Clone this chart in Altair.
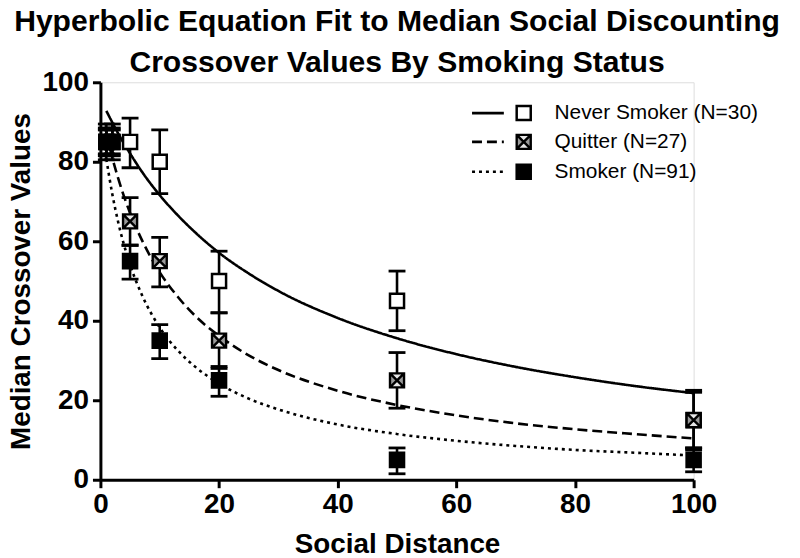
import altair as alt
import pandas as pd

# ---- data ----
distance = [1, 2, 5, 10, 20, 50, 100]

never_med = [85, 85, 85, 80, 50, 45, 15]
never_lo = [80.5, 80.5, 78.5, 72, 42, 37.5, 7.5]
never_hi = [89.5, 89.5, 91, 88, 57.5, 52.5, 22.5]

quit_med = [85, 85, 65, 55, 35, 25, 15]
quit_lo = [81.5, 81.5, 59, 48.5, 28.5, 18, 8]
quit_hi = [88.5, 88.5, 71, 61, 42, 32, 22]

smoke_med = [85, 85, 55, 35, 25, 5, 5]
smoke_lo = [82, 82, 50.5, 30.5, 21, 1.5, 2]
smoke_hi = [88, 88, 59, 39, 28, 8, 8]

# fitted hyperbolic curves
fit_x = [1, 2, 3, 5, 7, 10, 13, 16, 20, 25, 30, 40, 50, 60, 70, 80, 90, 100]
never_fit = [92.8, 89.9, 87.1, 82.1, 77.5, 71.6, 66.6, 62.2, 57.1, 51.9, 47.5, 40.7, 35.6, 31.6, 28.4, 25.8, 23.6, 21.8]
quit_fit = [87.0, 81.0, 75.8, 67.1, 60.3, 52.2, 46.1, 41.2, 36.2, 31.3, 27.6, 22.4, 18.8, 16.2, 14.2, 12.7, 11.5, 10.4]
smoke_fit = [80.7, 71.9, 64.8, 54.1, 46.5, 38.3, 32.6, 28.4, 24.2, 20.4, 17.7, 13.9, 11.5, 9.8, 8.5, 7.5, 6.8, 6.1]

series_names = ["Never Smoker", "Quitter", "Smoker"]
legend_labels = ["Never Smoker (N=30)", "Quitter (N=27)", "Smoker (N=91)"]

title_lines = ["Hyperbolic Equation Fit to Median Social Discounting",
               "Crossover Values By Smoking Status"]
x_title = "Social Distance"
y_title = "Median Crossover Values"
tick_values = [0, 20, 40, 60, 80, 100]

# ---- tables ----
pts = pd.DataFrame({
    "series": sum([[s] * len(distance) for s in series_names], []),
    "distance": distance * 3,
    "median": never_med + quit_med + smoke_med,
    "lo": never_lo + quit_lo + smoke_lo,
    "hi": never_hi + quit_hi + smoke_hi,
})
fits = pd.DataFrame({
    "series": sum([[s] * len(fit_x) for s in series_names], []),
    "distance": fit_x * 3,
    "value": never_fit + quit_fit + smoke_fit,
})

FONT = "Liberation Sans"
x_scale = alt.Scale(domain=[0, 100], nice=False, zero=False)
y_scale = alt.Scale(domain=[0, 100], nice=False)

axis_common = dict(
    values=tick_values, grid=False, domainColor="black", domainWidth=3,
    tickColor="black", tickWidth=3, tickSize=8, labelFont=FONT,
    labelFontWeight="bold", labelFontSize=28, labelColor="black",
    labelFlush=False, titleFont=FONT, titleFontWeight="bold",
    titleFontSize=28, titleColor="black",
)
x_axis = alt.Axis(title=x_title, labelPadding=3, titlePadding=12, **axis_common)
y_axis = alt.Axis(title=y_title, labelPadding=4, titlePadding=7, **axis_common)

X = alt.X("distance:Q", scale=x_scale, axis=x_axis)
Y_med = alt.Y("median:Q", scale=y_scale, axis=y_axis)

dashes = {"Never Smoker": [1, 0], "Quitter": [10, 5], "Smoker": [3, 4]}

SQ = 200
TRI = "M-1,-1L0,0L-1,1Z M1,-1L0,0L1,1Z"
XBOX = "M-1,-1L1,1M-1,1L1,-1M-1,-1L1,-1L1,1L-1,1Z"


def markers(base, name, enc):
    if name == "Never Smoker":
        return [base.mark_point(shape="square", size=SQ, filled=True, fill="white",
                                stroke="black", strokeWidth=2.5, opacity=1).encode(**enc)]
    if name == "Quitter":
        return [
            base.mark_point(shape="square", size=SQ, filled=True, fill="#e6e6e6",
                            strokeWidth=0, opacity=1).encode(**enc),
            base.mark_point(shape=TRI, size=SQ, filled=True, fill="#9a9a9a",
                            strokeWidth=0, opacity=1).encode(**enc),
            base.mark_point(shape=XBOX, size=SQ, filled=False, stroke="black",
                            strokeWidth=2.4, opacity=1).encode(**enc),
        ]
    return [base.mark_point(shape="square", size=SQ, filled=True, fill="black",
                            stroke="black", strokeWidth=2.5, opacity=1).encode(**enc)]


layers = []
for name in series_names:
    f = fits[fits.series == name]
    layers.append(
        alt.Chart(f).mark_line(color="black", strokeWidth=2.6, strokeDash=dashes[name],
                               interpolate="monotone", strokeCap="butt")
        .encode(x=X, y=alt.Y("value:Q", scale=y_scale, axis=y_axis))
    )

for name in series_names:
    p = alt.Chart(pts[pts.series == name])
    layers.append(p.mark_rule(color="black", strokeWidth=2.6).encode(
        x=X, y=alt.Y("lo:Q", scale=y_scale, axis=y_axis), y2="hi:Q"))
    for col in ["lo", "hi"]:
        layers.append(p.mark_tick(orient="horizontal", color="black", size=17,
                                  thickness=2.8, opacity=1).encode(
            x=X, y=alt.Y(f"{col}:Q", scale=y_scale, axis=y_axis)))
    layers += markers(p, name, dict(x=X, y=Y_med))

# ---- legend (drawn by hand, as in the reference) ----
leg_rows = [31, 60, 90]
for name, label, ry in zip(series_names, legend_labels, leg_rows):
    d = alt.Chart(pd.DataFrame({"label": [label]}))
    layers.append(d.mark_rule(color="black", strokeWidth=2.6, strokeDash=dashes[name],
                              strokeCap="butt").encode(
        x=alt.value(374), x2=alt.value(406), y=alt.value(ry)))
    layers += markers(d, name, dict(x=alt.value(426), y=alt.value(ry)))
    layers.append(d.mark_text(align="left", baseline="middle", font=FONT, fontSize=21,
                              color="black").encode(
        x=alt.value(457), y=alt.value(ry), text="label:N"))

chart = alt.layer(*layers).properties(
    width=597, height=400,
    autosize=alt.AutoSizeParams(type="none"),
    padding={"left": 93, "top": 73, "right": 99, "bottom": 77},
    title=alt.TitleParams(text=title_lines, font=FONT, fontSize=30.3, fontWeight="bold",
                          color="black", anchor="middle", lineHeight=41, offset=-10),
).configure_view(stroke="transparent").configure(background="white")

chart.save("out.html", embed_options={"renderer": "svg", "actions": False})
